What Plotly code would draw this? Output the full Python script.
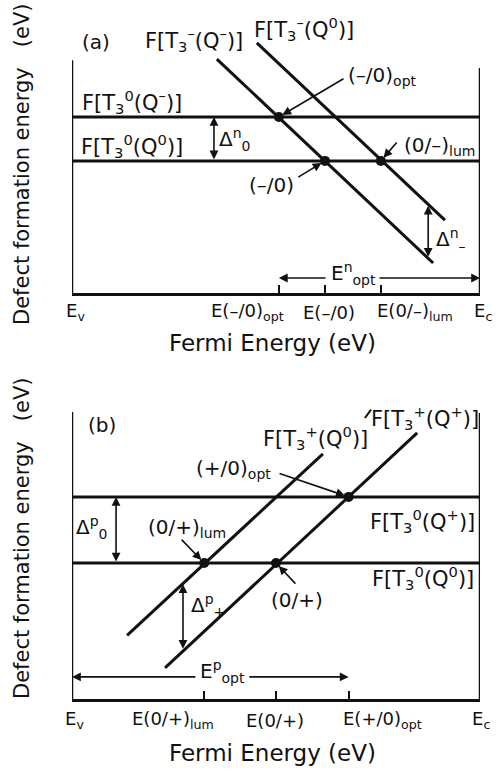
import plotly.graph_objects as go

# ---------------- data (schematic: Fermi energy Ev=0 ... Ec=10, formation energy in arb. units) -------------
# Panel (a)
a_levels = [6.45, 4.84]                       # F[T3^0(Q-)], F[T3^0(Q0)]
a_line1_x = [3.55, 8.85]                      # F[T3^-(Q^-)]
a_line1_y = [8.57, 1.10]
a_line2_x = [4.53, 9.14]                      # F[T3^-(Q^0)]
a_line2_y = [9.16, 2.67]
a_cross_x = [5.07, 6.20, 7.57]                # (-/0)opt, (-/0), (0/-)lum
a_cross_y = [6.45, 4.84, 4.84]
a_tick_vals = [5.07, 6.20, 7.57]
a_tick_text = ["E(–/0)<sub>opt</sub>", "E(–/0)", "E(0/–)<sub>lum</sub>"]
a_delta0 = [6.45, 4.84]                       # Δ0^n spans between levels
a_delta_minus = [3.20, 1.27]                  # Δ-^n spans between the two lines
a_eopt = [5.07, 10.0]                         # E_opt^n from E(-/0)opt to Ec

# Panel (b)
b_levels = [6.76, 4.55]                       # F[T3^0(Q+)], F[T3^0(Q0)]
b_lineA_x = [1.35, 6.15]                      # F[T3^+(Q^0)]
b_lineA_y = [2.13, 8.20]
b_lineB_x = [2.28, 8.46]                      # F[T3^+(Q^+)]
b_lineB_y = [1.04, 8.90]
b_cross_x = [3.24, 5.00, 6.78]                # (0/+)lum, (0/+), (+/0)opt
b_cross_y = [4.55, 4.55, 6.76]
b_tick_vals = [3.24, 5.00, 6.78]
b_tick_text = ["E(0/+)<sub>lum</sub>", "E(0/+)", "E(+/0)<sub>opt</sub>"]
b_delta0 = [6.76, 4.55]
b_delta_plus = [3.84, 1.63]
b_eopt = [0.0, 6.78]

# ---------------- styling / layout -----------------
FONT = "DejaVu Sans, Liberation Sans, Arial, sans-serif"
BLACK = "#111111"
LW = 3

fig = go.Figure()

def add_panel(xr, yr, levels, lines, cross_x, cross_y):
    for lv in levels:
        fig.add_trace(go.Scatter(x=[0, 10], y=[lv, lv], mode="lines",
                                 line=dict(color=BLACK, width=LW), xaxis=xr, yaxis=yr,
                                 showlegend=False, hoverinfo="skip"))
    for lx, ly in lines:
        fig.add_trace(go.Scatter(x=lx, y=ly, mode="lines",
                                 line=dict(color=BLACK, width=LW), xaxis=xr, yaxis=yr,
                                 showlegend=False, hoverinfo="skip"))
    fig.add_trace(go.Scatter(x=cross_x, y=cross_y, mode="markers",
                             marker=dict(color=BLACK, size=10), xaxis=xr, yaxis=yr,
                             showlegend=False, hoverinfo="skip"))

add_panel("x", "y", a_levels, [(a_line1_x, a_line1_y), (a_line2_x, a_line2_y)], a_cross_x, a_cross_y)
add_panel("x2", "y2", b_levels, [(b_lineA_x, b_lineA_y), (b_lineB_x, b_lineB_y)], b_cross_x, b_cross_y)

ann = []

def text(xr, yr, x, y, t, size=20, xanchor="center", yshift=0):
    ann.append(dict(xref=xr, yref=yr, x=x, y=y, text=t, showarrow=False,
                    font=dict(family=FONT, size=size, color=BLACK),
                    xanchor=xanchor, yanchor="middle", yshift=yshift))

def arrow(xr, yr, x0, y0, x1, y1, both=False, standoff=0):
    d = dict(xref=xr, yref=yr, axref=xr, ayref=yr, x=x1, y=y1, ax=x0, ay=y0,
             text="", showarrow=True, arrowhead=2, arrowsize=1.1, arrowwidth=1.6,
             arrowcolor=BLACK, standoff=standoff)
    if both:
        d.update(arrowside="end+start", startarrowhead=2, startarrowsize=1.1)
    ann.append(d)

FL = 21  # F[...] label size
# ----- panel (a) texts -----
text("x", "y", 0.59, 9.19, "(a)", 20)
text("x", "y", 2.99, 9.27, "F[T<sub>3</sub><sup>–</sup>(Q<sup>–</sup>)]", FL)
text("x", "y", 5.69, 9.67, "F[T<sub>3</sub><sup>–</sup>(Q<sup>0</sup>)]", FL)
text("x", "y", 1.47, 7.00, "F[T<sub>3</sub><sup>0</sup>(Q<sup>–</sup>)]", FL)
text("x", "y", 1.47, 5.38, "F[T<sub>3</sub><sup>0</sup>(Q<sup>0</sup>)]", FL)
text("x", "y", 7.62, 7.95, "(–/0)<sub>opt</sub>")
text("x", "y", 9.00, 5.38, "(0/–)<sub>lum</sub>")
text("x", "y", 4.90, 3.96, "(–/0)")
text("x", "y", 3.98, 5.62, "Δ<sup>n</sup><sub>0</sub>")
text("x", "y", 9.28, 1.95, "Δ<sup>n</sup><sub>–</sub>")
text("x", "y", 6.89, 0.72, "E<sup>n</sup><sub>opt</sub>")
arrow("x", "y", 6.69, 7.88, a_cross_x[0], a_cross_y[0], standoff=4)
arrow("x", "y", 7.99, 5.57, a_cross_x[2], a_cross_y[2], standoff=4)
arrow("x", "y", 5.51, 4.21, a_cross_x[1], a_cross_y[1], standoff=4)
arrow("x", "y", 3.48, a_delta0[1], 3.48, a_delta0[0], both=True)
arrow("x", "y", 8.73, a_delta_minus[1], 8.73, a_delta_minus[0], both=True)
arrow("x", "y", 6.25, 0.55, a_eopt[0], 0.55)
arrow("x", "y", 7.50, 0.55, a_eopt[1], 0.55)
# tick labels (placed below the axis, in axis-domain units)
a_tick_pos = [4.31, 6.30, 8.40]
text("x domain", "y domain", 0.008, 0, "E<sub>v</sub>", 18, yshift=-19)
for p, t in zip(a_tick_pos, a_tick_text):
    text("x domain", "y domain", p / 10, 0, t, 18, yshift=-19)
text("x domain", "y domain", 1.007, 0, "E<sub>c</sub>", 18, yshift=-19)

# ----- panel (b) texts -----
text("x2", "y2", 0.74, 9.16, "(b)", 20)
text("x2", "y2", 8.65, 9.40, "F[T<sub>3</sub><sup>+</sup>(Q<sup>+</sup>)]", FL)
text("x2", "y2", 5.98, 8.73, "F[T<sub>3</sub><sup>+</sup>(Q<sup>0</sup>)]", FL)
text("x2", "y2", 3.97, 7.69, "(+/0)<sub>opt</sub>")
text("x2", "y2", 8.60, 5.95, "F[T<sub>3</sub><sup>0</sup>(Q<sup>+</sup>)]", FL)
text("x2", "y2", 0.49, 5.72, "Δ<sup>p</sup><sub>0</sub>")
text("x2", "y2", 2.82, 5.72, "(0/+)<sub>lum</sub>")
text("x2", "y2", 8.60, 4.05, "F[T<sub>3</sub><sup>0</sup>(Q<sup>0</sup>)]", FL)
text("x2", "y2", 3.33, 3.14, "Δ<sup>p</sup><sub>+</sub>")
text("x2", "y2", 5.51, 3.31, "(0/+)")
text("x2", "y2", 3.68, 0.92, "E<sup>p</sup><sub>opt</sub>")
arrow("x2", "y2", 5.05, 7.56, b_cross_x[2], b_cross_y[2], standoff=4)
arrow("x2", "y2", 2.65, 5.38, b_cross_x[0], b_cross_y[0], standoff=4)
arrow("x2", "y2", 5.51, 3.81, b_cross_x[1], b_cross_y[1], standoff=4)
arrow("x2", "y2", 1.08, b_delta0[1], 1.08, b_delta0[0], both=True)
arrow("x2", "y2", 2.72, b_delta_plus[1], 2.72, b_delta_plus[0], both=True)
arrow("x2", "y2", 3.06, 0.74, b_eopt[0], 0.74)
arrow("x2", "y2", 4.31, 0.74, b_eopt[1], 0.74)
b_tick_pos = [2.48, 4.98, 7.60]
text("x2 domain", "y2 domain", 0.005, 0, "E<sub>v</sub>", 18, yshift=-21)
for p, t in zip(b_tick_pos, b_tick_text):
    text("x2 domain", "y2 domain", p / 10, 0, t, 18, yshift=-21)
text("x2 domain", "y2 domain", 1.002, 0, "E<sub>c</sub>", 18, yshift=-21)

# axis titles
sp = "\u00a0" * 3
for yc in (0.7874, 0.3054):
    ann.append(dict(xref="paper", yref="paper", x=0.044, y=yc, text="Defect formation energy" + sp + "(eV)",
                    textangle=-90, showarrow=False, xanchor="center", yanchor="middle",
                    font=dict(family=FONT, size=21, color=BLACK)))
for yc in (0.558, 0.0296):
    ann.append(dict(xref="paper", yref="paper", x=0.545, y=yc, text="Fermi Energy (eV)",
                    showarrow=False, xanchor="center", yanchor="middle",
                    font=dict(family=FONT, size=23, color=BLACK)))

# box side lines (open top) and a small leader mark
shapes = [
    dict(type="line", xref="x", yref="y", x0=0, x1=0, y0=0, y1=8.53, line=dict(color=BLACK, width=2.5)),
    dict(type="line", xref="x", yref="y", x0=10, x1=10, y0=0, y1=8.24, line=dict(color=BLACK, width=2.5)),
    dict(type="line", xref="x2", yref="y2", x0=0, x1=0, y0=0, y1=9.60, line=dict(color=BLACK, width=2.5)),
    dict(type="line", xref="x2", yref="y2", x0=10, x1=10, y0=0, y1=9.57, line=dict(color=BLACK, width=2.5)),
    dict(type="line", xref="x2", yref="y2", x0=7.18, x1=7.33, y0=9.40, y1=9.68, line=dict(color=BLACK, width=2)),
]

xcommon = dict(range=[0, 10], domain=[0.144, 0.96], showgrid=False, zeroline=False,
               showline=True, linecolor=BLACK, linewidth=2.5, ticks="inside", ticklen=8,
               tickwidth=2, tickcolor=BLACK, showticklabels=False)
ycommon = dict(range=[0, 10], showgrid=False, zeroline=False, showline=False,
               showticklabels=False, ticks="")

fig.update_layout(
    width=500, height=776, margin=dict(l=0, r=0, t=0, b=0),
    paper_bgcolor="white", plot_bgcolor="white", showlegend=False,
    xaxis=dict(xcommon, anchor="y", tickvals=a_tick_vals),
    yaxis=dict(ycommon, domain=[0.6224, 0.9742], anchor="x"),
    xaxis2=dict(xcommon, anchor="y2", tickvals=b_tick_vals),
    yaxis2=dict(ycommon, domain=[0.0992, 0.4845], anchor="x2"),
    annotations=ann, shapes=shapes,
)

fig.write_html("out.html", config={"displayModeBar": False},
               post_script="document.body.style.margin='0';document.body.style.overflow='hidden';")
